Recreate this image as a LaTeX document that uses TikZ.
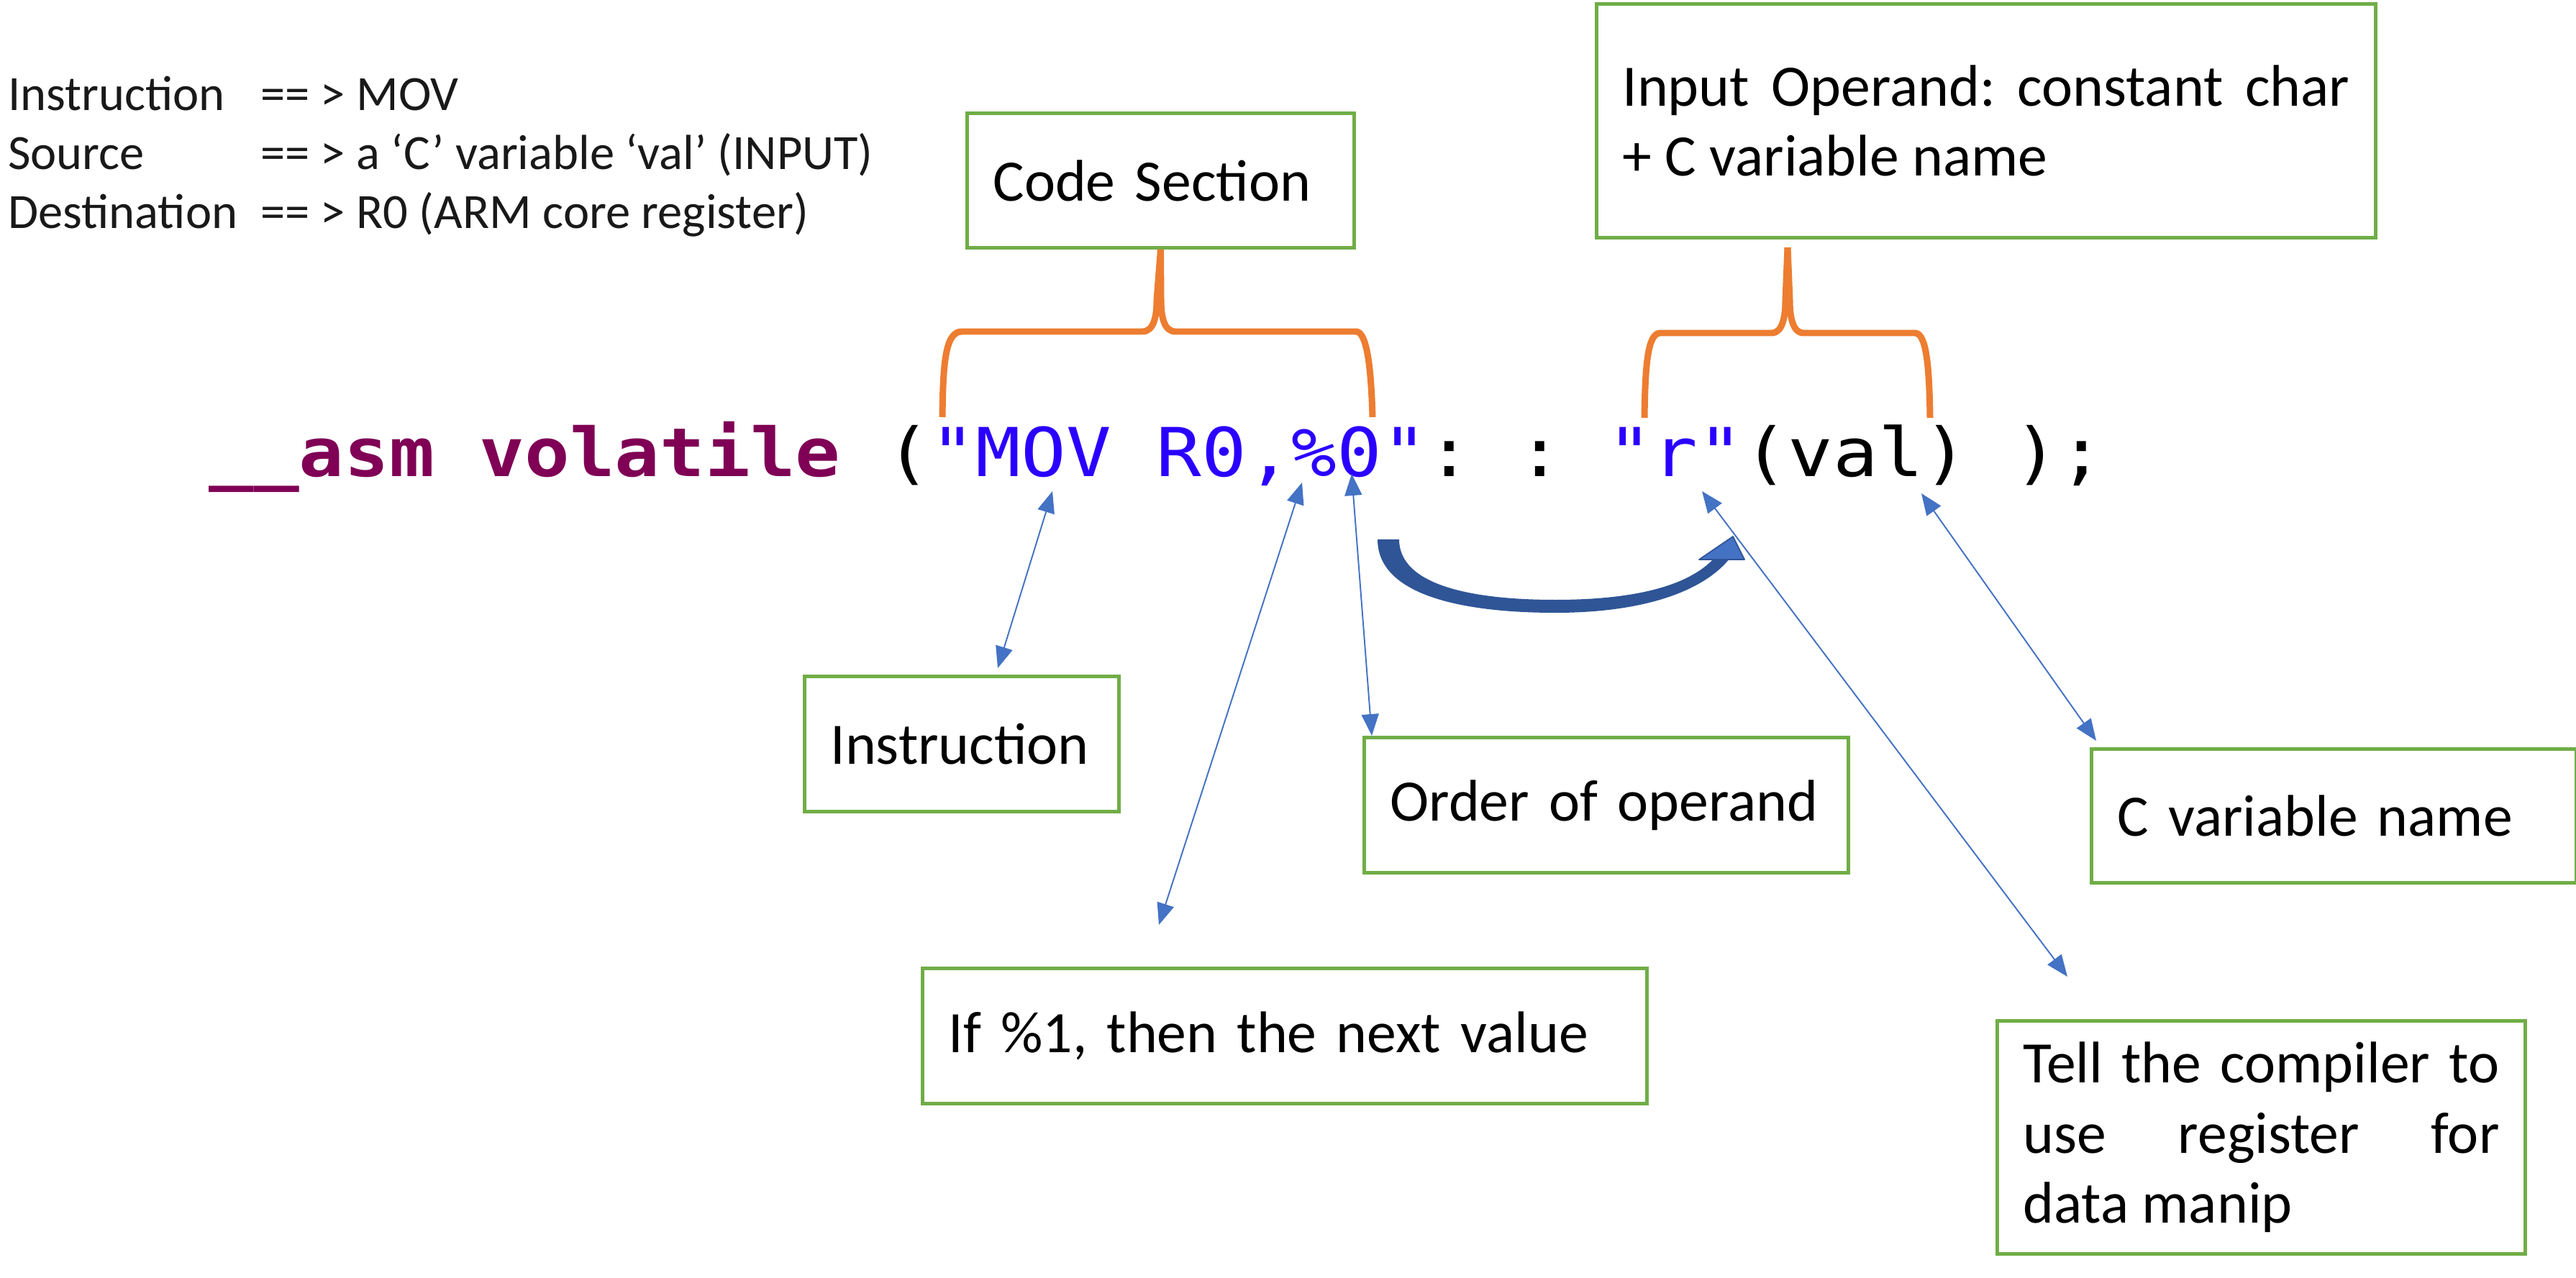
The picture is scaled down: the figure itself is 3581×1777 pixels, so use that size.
\documentclass[tikz,border=0pt]{standalone}
\usepackage{fontspec}
\setmainfont{Carlito}
\newfontfamily\codefont{DejaVu Sans Mono}
\usepackage{graphicx}
\usetikzlibrary{arrows.meta}
\definecolor{boxgreen}{RGB}{112,173,71}
\definecolor{braceorange}{RGB}{237,125,49}
\definecolor{arrowblue}{RGB}{68,114,196}
\definecolor{banddark}{RGB}{47,85,151}
\definecolor{kwcol}{RGB}{127,0,85}
\definecolor{strcol}{RGB}{42,0,255}
\definecolor{legtext}{RGB}{25,25,25}
\frenchspacing
\begin{document}
\begin{tikzpicture}[x=0.02cm,y=-0.02cm,
  lbl/.style={draw=boxgreen, line width=0.1cm, inner xsep=0.72cm, inner ysep=0pt,
    anchor=north west, font=\fontsize{46.5pt}{55.6pt}\selectfont, align=left},
  legend/.style={anchor=base west, inner sep=0pt, text=legtext,
    font=\fontsize{39pt}{46pt}\selectfont},
  bracepath/.style={draw=braceorange, line width=0.18cm, line join=round, line cap=butt},
  dbl/.style={draw=arrowblue, line width=1.1pt,
    {Triangle[length=0.6cm,width=0.48cm]}-{Triangle[length=0.6cm,width=0.48cm]}}]
\useasboundingbox (0,0) rectangle (3581,1777);
\fill[white] (0,0) rectangle (3581,1777);

% legend text
\node[legend] (leg1) at (11,154) {\makebox[7.02cm][l]{Instruction}== > MOV};
\node[legend] (leg2) at (11,236) {\makebox[7.02cm][l]{Source}== > a ‘C’ variable ‘val’ (INPUT)};
\node[legend] (leg3) at (11,318) {\makebox[7.02cm][l]{Destination}== > R0 (ARM core register)};

% code line
\node[anchor=base west, inner sep=0pt] (src) at (290,662)
  {\scalebox{1}[0.9]{\codefont\fontsize{59.3pt}{70pt}\selectfont{\bfseries\color{kwcol}\_\_asm volatile} ({\color{strcol}"MOV R0,\%0"}: : {\color{strcol}"r"}(val) );}};

% boxes
\node[lbl, text width=9.32cm, minimum height=3.74cm] (code) at (1342,155) {Code Section};
\node[lbl, text width=20.22cm, minimum height=6.5cm, align=justify] (inp) at (2217,3)
  {Input Operand: constant char\linebreak + C variable name};
\node[lbl, text width=7.3cm, minimum height=3.76cm] (instr) at (1116,938) {Instruction};
\node[lbl, text width=12.02cm, minimum height=3.76cm] (order) at (1894,1023) {Order of operand};
\node[lbl, text width=12.04cm, minimum height=3.72cm] (cvar) at (2905,1039) {C variable name};
\node[lbl, text width=18.7cm, minimum height=3.76cm] (ifone) at (1280,1344) {If \%1, then the next value};
\node[lbl, text width=13.24cm, minimum height=6.48cm, align=justify] (tell) at (2774,1417)
  {Tell the compiler to\linebreak use register for\linebreak data manip};

% braces
\coordinate (cbL) at (1310,580);
\coordinate (cbR) at (1908,580);
\draw[bracepath] (cbL) .. controls (1311,510) and (1313,461) .. (1337,461) -- (1588,461)
  .. controls (1604,461) and (1608,440) .. (1608,417) -- (code.south);
\draw[bracepath] (code.south) -- (1614,417) .. controls (1614,440) and (1618,461) .. (1634,461)
  -- (1885,461) .. controls (1900,461) and (1906,510) .. (cbR);
\coordinate (ibTip) at (2485,344);
\coordinate (ibL) at (2286,581);
\coordinate (ibR) at (2683,581);
\draw[bracepath] (ibL) .. controls (2287,510) and (2290,463) .. (2308,463) -- (2463,463)
  .. controls (2478,463) and (2482,440) .. (2482,417) -- (ibTip);
\draw[bracepath] (ibTip) -- (2488,417) .. controls (2488,440) and (2492,463) .. (2507,463)
  -- (2662,463) .. controls (2678,463) and (2682,510) .. (ibR);

% double arrows
\coordinate (aMOV) at (1463,683);  \coordinate (aMOVb) at (1387,929);
\coordinate (aPct) at (1810,671);  \coordinate (aPctb) at (1611,1286);
\coordinate (aZero) at (1879,659); \coordinate (aZerob) at (1907,1023);
\coordinate (aR) at (2366,683);    \coordinate (aRb) at (2874,1358);
\coordinate (aVal) at (2671,686);  \coordinate (aValb) at (2914,1030);
\draw[dbl] (aMOV) -- (aMOVb);
\draw[dbl] (aPct) -- (aPctb);
\draw[dbl] (aZero) -- (aZerob);
\draw[dbl] (aR) -- (aRb);
\draw[dbl] (aVal) -- (aValb);

% curved thick arrow
\fill[banddark] (1915,750) .. controls (1915,830) and (2040,852) .. (2162,852)
  .. controls (2290,852) and (2370,820) .. (2405,776) -- (2383,776)
  .. controls (2350,812) and (2280,834) .. (2162,834)
  .. controls (2050,834) and (1945,815) .. (1945,750) -- cycle;
\filldraw[fill=arrowblue, draw=banddark, line width=1pt, line join=round]
  (2362,778) -- (2409,746) -- (2425,778) -- cycle;
\end{tikzpicture}
\end{document}
